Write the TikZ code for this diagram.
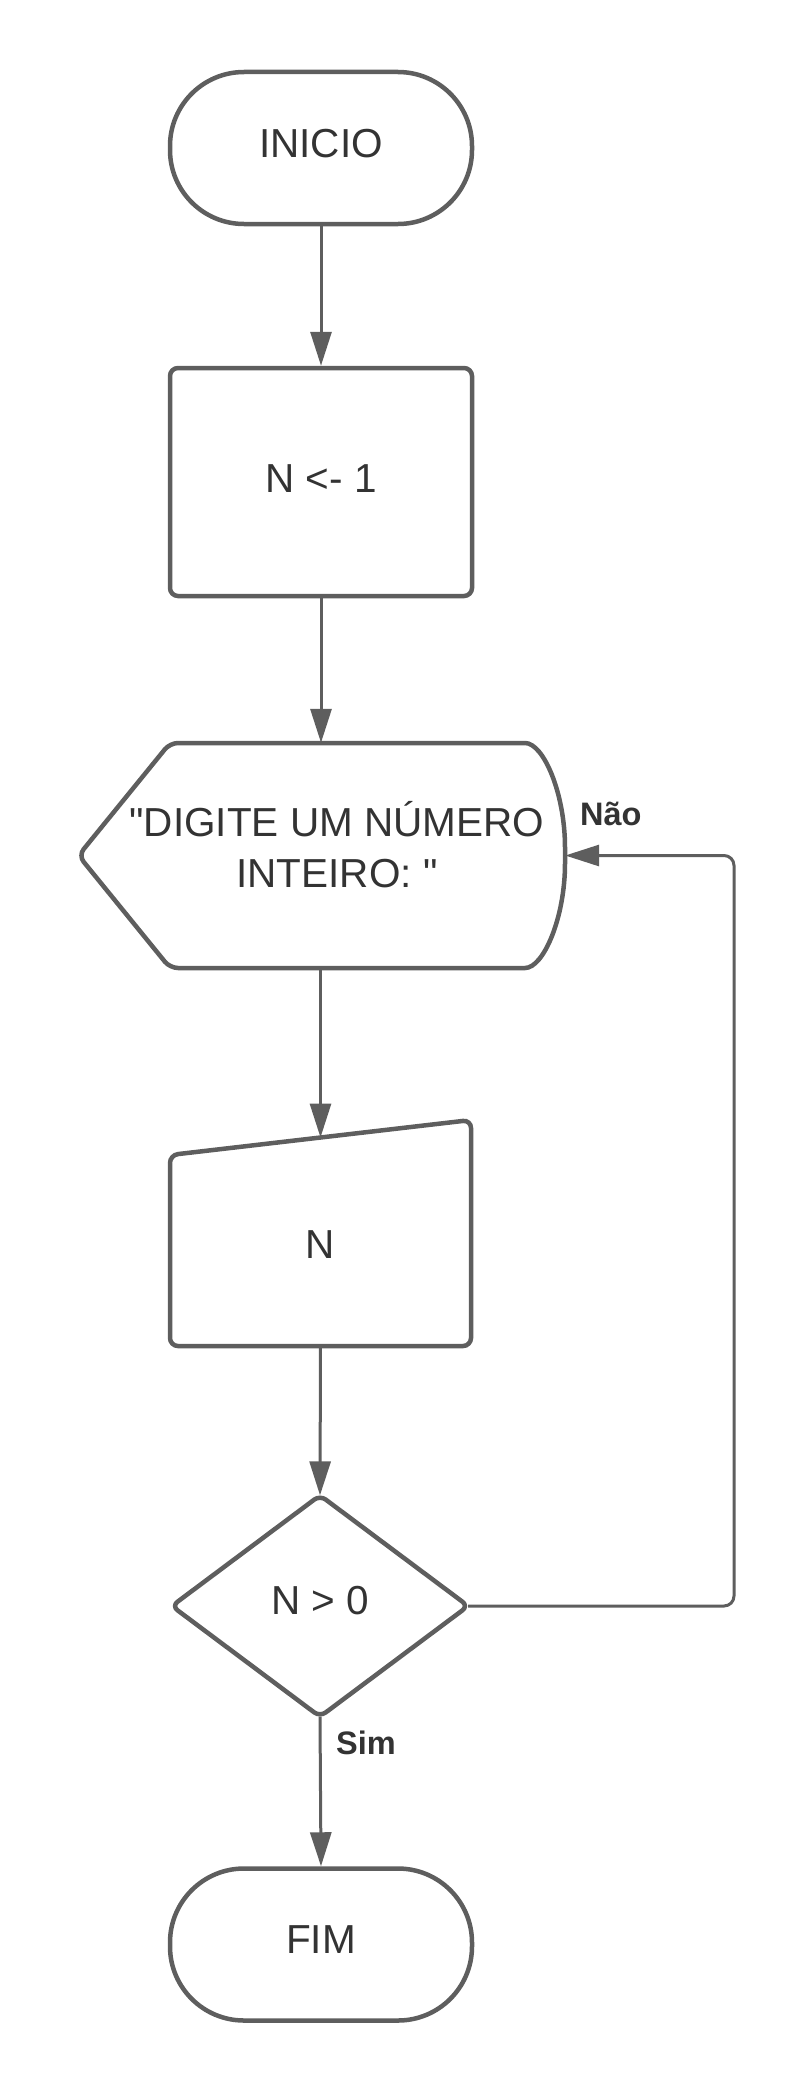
\documentclass[tikz,border=0pt]{standalone}
\usepackage{fontspec}
\setmainfont{Liberation Sans}[Ligatures=TeXOff]
\usetikzlibrary{arrows.meta}
\definecolor{lc}{HTML}{5E5E5E}
\definecolor{tc}{HTML}{333333}
\begin{document}
\begin{tikzpicture}[x=1pt,y=-1pt,
  shapeline/.style={draw=lc, line width=4.5pt},
  txt/.style={text=tc, font=\fontsize{40.5}{51}\selectfont},
  lbl/.style={text=tc, font=\bfseries\fontsize{32.5}{39}\selectfont, inner sep=0pt, anchor=base west},
  conn/.style={draw=lc, line width=3pt, -{Triangle[length=34pt,width=21pt]}},
  term/.style={shapeline, txt, rounded corners=74pt, minimum width=302pt, minimum height=152pt, inner sep=0pt, text depth=10pt},
  procbox/.style={shapeline, txt, rounded corners=8pt, minimum width=302pt, minimum height=228pt, inner sep=0pt, text depth=6.5pt},
  ghost/.style={inner sep=0pt, txt}
]
\useasboundingbox (0,0) rectangle (806,2093);

% nodes
\node[term] (ini) at (321,148) {INICIO};
\node[procbox] (box) at (321,482) {N <- 1};
\node[ghost, minimum width=486.5pt, minimum height=225pt] (disp) at (321.75,855.5) {};
\node[ghost, anchor=base] (dl1) at (337,836.8) {"DIGITE UM NÚMERO};
\node[ghost, anchor=base] (dl2) at (337,887.5) {INTEIRO: "};
\node[ghost, minimum width=301pt, minimum height=226pt, text height=50pt, text depth=0pt] (inp) at (320.5,1233) {N};
\coordinate (inptop) at (320.5,1137.5);
\node[ghost, minimum width=296pt, minimum height=221pt, text depth=12pt] (dec) at (320,1606) {N > 0};
\node[term] (fim) at (321,1944.5) {FIM};
\coordinate (loopx) at (734,0);

% custom outlines
\draw[shapeline, rounded corners=8pt] (170,743) -- (517,743)
  .. controls (543.5,743) and (565,793.4) .. (565,855.5)
  .. controls (565,917.6) and (543.5,968) .. (517,968)
  -- (170,968) -- (78.5,855.5) -- cycle;
\draw[shapeline, rounded corners=8pt] (170,1155) -- (471,1120) -- (471,1346) -- (170,1346) -- cycle;
\draw[shapeline, rounded corners=7pt] (dec.north) -- (dec.east) -- (dec.south) -- (dec.west) -- cycle;

% connectors
\draw[conn] (ini.south) -- (box.north);
\draw[conn] (box.south) -- (disp.north -| box.south);
\draw[conn] (disp.south -| inptop) -- (inptop);
\draw[conn] (inp.south) -- (dec.north);
\draw[conn] (dec.south) -- (fim.north);
\draw[conn, rounded corners=10pt] (dec.east) -- (dec.east -| loopx) -- (disp.east -| loopx) -- (disp.east);

% labels
\node[lbl] (nao) at (580,825.6) {Não};
\node[lbl] (sim) at (336,1754.5) {Sim};
\end{tikzpicture}
\end{document}
